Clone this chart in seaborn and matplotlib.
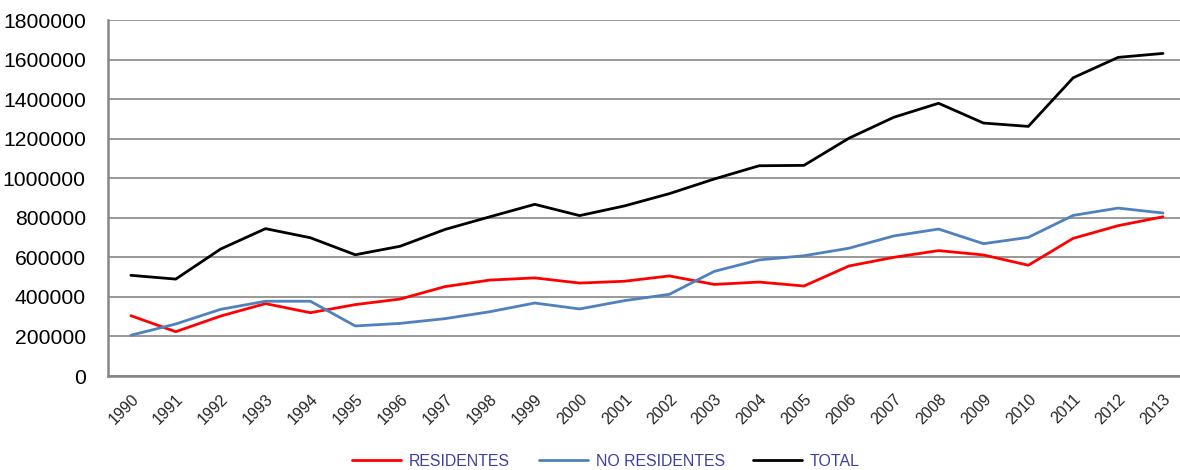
import matplotlib
matplotlib.use("Agg")
import matplotlib.pyplot as plt
import seaborn as sns
import pandas as pd

years = list(range(1990, 2014))
residentes = [305000, 224000, 303000, 366000, 320000, 361000, 389000, 452000, 485000, 496000,
              470000, 479000, 506000, 463000, 475000, 455000, 556000, 600000, 634000, 612000,
              560000, 696000, 760000, 805000]
no_residentes = [206000, 263000, 337000, 378000, 378000, 253000, 266000, 290000, 325000, 369000,
                 339000, 381000, 413000, 529000, 587000, 608000, 646000, 708000, 743000, 669000,
                 701000, 812000, 849000, 824000]
total = [509000, 490000, 642000, 745000, 699000, 613000, 656000, 741000, 805000, 868000,
         811000, 860000, 922000, 996000, 1063000, 1065000, 1202000, 1308000, 1379000, 1279000,
         1262000, 1508000, 1611000, 1631000]
series_names = ["RESIDENTES", "NO RESIDENTES", "TOTAL"]
colors = ["#FF0000", "#4F81BD", "#000000"]

df = pd.DataFrame({
    "year": years * 3,
    "value": residentes + no_residentes + total,
    "serie": [series_names[0]] * 24 + [series_names[1]] * 24 + [series_names[2]] * 24,
})

sns.set_theme(style="white")
plt.rcParams["font.family"] = ["Liberation Sans", "DejaVu Sans"]

fig = plt.figure(figsize=(11.8, 4.7), dpi=100)
ax = fig.add_axes([108 / 1180, 94 / 470, 1 - 108 / 1180, 356 / 470])

sns.lineplot(data=df, x="year", y="value", hue="serie", hue_order=series_names,
             palette=colors, linewidth=2.0, ax=ax, legend=True)

ax.set_xlim(1989.49, 2013.38)
ax.set_ylim(0, 1800000)
ax.set_yticks(range(0, 1800001, 200000))
ax.set_yticklabels([str(v) for v in range(0, 1800001, 200000)], fontsize=15.2)
ax.set_xticks(years)
ax.set_xticklabels([str(y) for y in years], rotation=45, ha="right", rotation_mode="anchor",
                   fontsize=11.5)
ax.set_xlabel("")
ax.set_ylabel("")

ax.grid(axis="y", color="#868686", linewidth=1.2)
ax.grid(axis="x", visible=False)
ax.set_axisbelow(True)

for s in ["top", "right"]:
    ax.spines[s].set_visible(False)
for s in ["left", "bottom"]:
    ax.spines[s].set_color("#868686")
    ax.spines[s].set_linewidth(1.8)

ax.tick_params(axis="y", length=4, color="#868686", width=1.2, pad=12, colors="black")
ax.tick_params(axis="x", length=0, pad=11)
for lbl in ax.get_yticklabels():
    lbl.set_color("black")

handles, labels = ax.get_legend_handles_labels()
leg = ax.legend(handles, labels, loc="center", ncol=3, frameon=False, fontsize=11.4,
                handlelength=3.1, handletextpad=0.5, columnspacing=1.8)
leg.set_bbox_to_anchor((606 / 1180, 9 / 470), transform=fig.transFigure)
for t in leg.get_texts():
    t.set_color("#3F3F9F")
for l in leg.get_lines():
    l.set_linewidth(2.0)

fig.savefig("out.png", dpi=100)
